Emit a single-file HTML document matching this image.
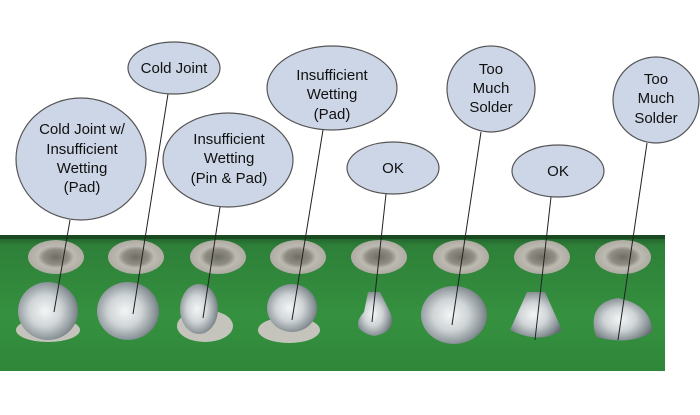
<!DOCTYPE html>
<html><head><style>
html,body{margin:0;padding:0;background:#fff;width:700px;height:415px;overflow:hidden}
svg{display:block}
text{font-family:"Liberation Sans",Arial,sans-serif;font-size:15px;fill:#111;text-anchor:middle}
</style></head><body>
<svg width="700" height="415" viewBox="0 0 700 415" xmlns="http://www.w3.org/2000/svg">
<defs>
<linearGradient id="pcb" x1="0" y1="0" x2="0" y2="1">
<stop offset="0" stop-color="#1f5a2a"/><stop offset="0.08" stop-color="#2e8038"/>
<stop offset="0.6" stop-color="#35913f"/><stop offset="1" stop-color="#2f873a"/>
</linearGradient>
<radialGradient id="sol" cx="0.45" cy="0.5" r="0.6">
<stop offset="0" stop-color="#f4f6f6"/><stop offset="0.45" stop-color="#cfd4d6"/>
<stop offset="0.8" stop-color="#8e979b"/><stop offset="1" stop-color="#646d71"/>
</radialGradient>
<radialGradient id="hole" cx="0.5" cy="0.5" r="0.5">
<stop offset="0" stop-color="#6f6e64"/><stop offset="0.45" stop-color="#8f8d84"/>
<stop offset="0.65" stop-color="#bdbab2"/><stop offset="1" stop-color="#aeaba2"/>
</radialGradient>
</defs>
<rect x="0" y="235" width="665" height="136" fill="url(#pcb)"/>
<rect x="0" y="235" width="665" height="4" fill="#1a4a22"/>
<g fill="url(#hole)">
<ellipse cx="56" cy="257" rx="28" ry="17"/><ellipse cx="136" cy="257" rx="28" ry="17"/>
<ellipse cx="218" cy="257" rx="28" ry="17"/><ellipse cx="298" cy="257" rx="28" ry="17"/>
<ellipse cx="379" cy="257" rx="28" ry="17"/><ellipse cx="461" cy="257" rx="28" ry="17"/>
<ellipse cx="542" cy="257" rx="28" ry="17"/><ellipse cx="623" cy="257" rx="28" ry="17"/>
</g>
<g fill="#c4c4bc">
<ellipse cx="205" cy="326" rx="28" ry="16"/><ellipse cx="289" cy="330" rx="31" ry="13"/>
<ellipse cx="48" cy="330" rx="32" ry="12"/>
</g>
<g fill="url(#sol)">
<ellipse cx="48" cy="311" rx="30" ry="29"/>
<ellipse cx="128" cy="311" rx="31" ry="29"/>
<ellipse cx="199" cy="309" rx="19" ry="25"/>
<ellipse cx="292" cy="308" rx="25" ry="24"/>
<path d="M364 312 L368 292 L380 292 L390 312 Q398 332 374 336 Q348 330 364 312Z"/>
<ellipse cx="454" cy="315" rx="33" ry="29"/>
<path d="M527 292 L545 292 L562 330 Q540 345 510 330Z"/>
<path d="M618 298 Q652 305 652 332 Q630 346 596 337 Q586 303 618 298Z"/>
</g>
<g stroke="#222" stroke-width="1" fill="none">
<line x1="70" y1="220" x2="54" y2="312"/>
<line x1="168" y1="94" x2="133" y2="314"/>
<line x1="220" y1="207" x2="203" y2="318"/>
<line x1="323" y1="130" x2="292" y2="320"/>
<line x1="386" y1="194" x2="372" y2="322"/>
<line x1="481" y1="132" x2="452" y2="325"/>
<line x1="551" y1="197" x2="535" y2="340"/>
<line x1="647" y1="143" x2="618" y2="340"/>
</g>
<g fill="#cdd6e6" stroke="#555" stroke-width="1.2">
<ellipse cx="81" cy="159" rx="65" ry="61"/>
<ellipse cx="174" cy="68" rx="46" ry="26"/>
<ellipse cx="228" cy="160" rx="65" ry="47"/>
<ellipse cx="332" cy="88" rx="65" ry="42"/>
<ellipse cx="393" cy="168" rx="46" ry="26"/>
<ellipse cx="491" cy="89" rx="44" ry="43"/>
<ellipse cx="558" cy="171" rx="46" ry="26"/>
<ellipse cx="656" cy="100" rx="43" ry="43"/>
</g>
<text x="82" y="134">Cold Joint w/</text>
<text x="82" y="154">Insufficient</text>
<text x="82" y="173">Wetting</text>
<text x="82" y="192">(Pad)</text>
<text x="174" y="73">Cold Joint</text>
<text x="229" y="144">Insufficient</text>
<text x="229" y="163">Wetting</text>
<text x="229" y="183">(Pin &amp; Pad)</text>
<text x="332" y="80">Insufficient</text>
<text x="332" y="99">Wetting</text>
<text x="332" y="119">(Pad)</text>
<text x="393" y="173">OK</text>
<text x="491" y="74">Too</text>
<text x="491" y="93">Much</text>
<text x="491" y="112">Solder</text>
<text x="558" y="176">OK</text>
<text x="656" y="84">Too</text>
<text x="656" y="103">Much</text>
<text x="656" y="123">Solder</text>
</svg>
</body></html>
